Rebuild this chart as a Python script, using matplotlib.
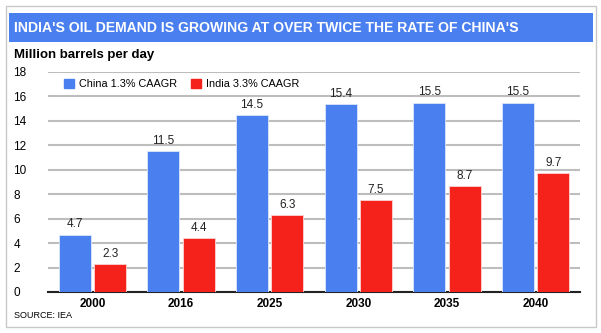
import matplotlib
matplotlib.use("Agg")
import matplotlib.pyplot as plt
from matplotlib.patches import Rectangle, Patch
import numpy as np

# данные
years = ["2000", "2016", "2025", "2030", "2035", "2040"]
china = [4.7, 11.5, 14.5, 15.4, 15.5, 15.5]
india = [2.3, 4.4, 6.3, 7.5, 8.7, 9.7]
china_label = "China 1.3% CAAGR"
india_label = "India 3.3% CAAGR"
title = "INDIA'S OIL DEMAND IS GROWING AT OVER TWICE THE RATE OF CHINA'S"

blue = "#4a7ff0"
red = "#f5221b"

plt.rcParams['font.family'] = ['Liberation Sans', 'DejaVu Sans']

W, H = 601, 333
fig = plt.figure(figsize=(W / 100, H / 100), dpi=100)

def fx(px):
    return px / W

def fy(py):
    return 1 - py / H

# рамка и заголовок
fig.patches.append(Rectangle((fx(6), fy(327)), fx(590), (321) / H, transform=fig.transFigure,
                             facecolor='none', edgecolor='#c8c8c8', lw=1, zorder=-1))
fig.patches.append(Rectangle((fx(9), fy(42)), fx(584), 29 / H, transform=fig.transFigure,
                             facecolor=blue, edgecolor='none', zorder=-1))
t = fig.text(fx(14), fy(27.5), title, color='white', fontsize=11, fontweight='bold',
             va='center', ha='left')
# подгоняем ширину заголовка (~503 px)
fig.canvas.draw()
wpx = t.get_window_extent().width
t.set_fontsize(11 * 503 / wpx)

fig.text(fx(14), fy(55), "Million barrels per day", fontsize=9.5, fontweight='bold',
         va='center', ha='left')
fig.text(fx(14), fy(316), "SOURCE: IEA", fontsize=6.5, va='center', ha='left')

ax = fig.add_axes([fx(48), fy(292), fx(580 - 48), (292 - 72) / H])
x = np.arange(len(years))
w = 0.36
b1 = ax.bar(x - 0.2, china, w, color=blue, edgecolor='#dce6fb', linewidth=0.6, zorder=3)
b2 = ax.bar(x + 0.2, india, w, color=red, edgecolor='#fbd5d3', linewidth=0.6, zorder=3)
for bars, vals in ((b1, china), (b2, india)):
    for r, v in zip(bars, vals):
        ax.annotate(f"{v}", (r.get_x() + r.get_width() / 2, v), xytext=(0, 3),
                    textcoords='offset points', ha='center', va='bottom', fontsize=8.5,
                    color='#222222')

ax.set_xlim(-0.5, len(years) - 0.5)
ax.set_ylim(0, 18)
ax.set_yticks(range(0, 19, 2))
ax.yaxis.grid(True, color='#bdbdbd', linewidth=1.5, zorder=0)
ax.set_axisbelow(True)
for s in ['top', 'right', 'left']:
    ax.spines[s].set_visible(False)
ax.spines['bottom'].set_color('#222222')
ax.spines['bottom'].set_linewidth(1.5)
ax.set_xticks(x)
ax.set_xticklabels(years, fontweight='bold', fontsize=8.5)
ax.tick_params(axis='x', length=0, pad=4)
ax.tick_params(axis='y', length=0, pad=25, labelsize=8.5)
for lab in ax.get_yticklabels():
    lab.set_ha('left')
ax.set_facecolor('none')

handles = [Patch(color=blue), Patch(color=red)]
ax.legend(handles, [china_label, india_label], ncol=2, frameon=False, fontsize=7.8,
          loc='center left', bbox_to_anchor=(fx(64), fy(84)), bbox_transform=fig.transFigure,
          borderpad=0, borderaxespad=0, handlelength=0.9, handleheight=0.9,
          handletextpad=0.5, columnspacing=1.3)

fig.savefig("out.png", dpi=100)
